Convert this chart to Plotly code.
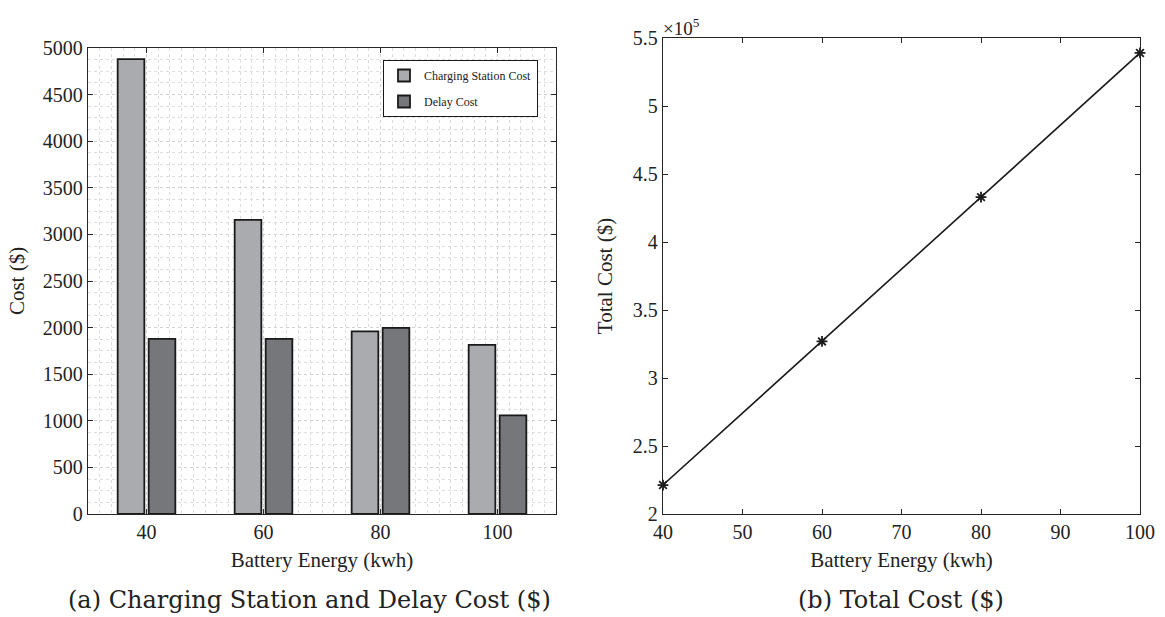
import plotly.graph_objects as go

# ---- data ----
battery_energy = [40, 60, 80, 100]
charging_station_cost = [4880, 3155, 1960, 1815]
delay_cost = [1880, 1878, 1998, 1058]
total_cost = [2.213e5, 3.269e5, 4.330e5, 5.390e5]

left_yticks = [0, 500, 1000, 1500, 2000, 2500, 3000, 3500, 4000, 4500, 5000]
right_xticks = [40, 50, 60, 70, 80, 90, 100]
right_yticks = [2.0e5, 2.5e5, 3.0e5, 3.5e5, 4.0e5, 4.5e5, 5.0e5, 5.5e5]
right_yticklabels = ["2", "2.5", "3", "3.5", "4", "4.5", "5", "5.5"]

W, H = 1165, 617
FONT = "Liberation Serif"
TXT = "#222222"
AX = "#262626"

def px(x):
    return x / W

def py(y):
    return 1 - y / H

fig = go.Figure()

fig.add_trace(go.Bar(
    x=battery_energy, y=charging_station_cost, name="Charging Station Cost",
    legendgroup="a",
    marker=dict(color="#aaabaf", line=dict(color="#1a1a1a", width=1.8)),
    xaxis="x", yaxis="y",
))
fig.add_trace(go.Bar(
    x=battery_energy, y=delay_cost, name="Delay Cost",
    legendgroup="b",
    marker=dict(color="#76777b", line=dict(color="#1a1a1a", width=1.8)),
    xaxis="x", yaxis="y",
))
fig.add_trace(go.Scatter(
    x=battery_energy, y=total_cost, mode="lines+markers", showlegend=False,
    line=dict(color="#1a1a1a", width=1.6), cliponaxis=False,
    marker=dict(symbol="asterisk-open", size=9, color="#1a1a1a",
                line=dict(color="#1a1a1a", width=1.8)),
    xaxis="x2", yaxis="y2",
))

common_axis = dict(
    showline=True, linecolor=AX, linewidth=1.3, mirror="ticks",
    ticks="inside", ticklen=5, tickcolor=AX, tickwidth=1,
    tickfont=dict(family=FONT, size=20, color=TXT),
    zeroline=False,
)
title_font = dict(family=FONT, size=21, color=TXT)

fig.update_layout(
    width=W, height=H,
    margin=dict(l=0, r=0, t=0, b=0, autoexpand=False),
    paper_bgcolor="white", plot_bgcolor="white",
    barmode="group", bargap=0.47, bargroupgap=0.14,
    font=dict(family=FONT, color=TXT),
    xaxis=dict(
        **common_axis,
        domain=[px(88), px(556)], range=[30, 110],
        tickvals=battery_energy, anchor="y",
        showgrid=True, gridcolor="#d2d2d2", griddash="dot", gridwidth=1,
        minor=dict(dtick=2, showgrid=True, gridcolor="#dddddd", griddash="dot", gridwidth=1, ticks=""),
        title=dict(text="Battery Energy (kwh)", font=title_font, standoff=10),
    ),
    yaxis=dict(
        **common_axis,
        domain=[py(514), py(48)], range=[0, 5000],
        tickvals=left_yticks, anchor="x",
        showgrid=True, gridcolor="#d2d2d2", griddash="dot", gridwidth=1,
        minor=dict(dtick=125, showgrid=True, gridcolor="#dddddd", griddash="dot", gridwidth=1, ticks=""),
        title=dict(text="Cost ($)", font=title_font, standoff=12),
    ),
    xaxis2=dict(
        **common_axis,
        domain=[px(663), px(1140)], range=[40, 100],
        tickvals=right_xticks, anchor="y2", showgrid=False,
        title=dict(text="Battery Energy (kwh)", font=title_font, standoff=10),
    ),
    yaxis2=dict(
        **common_axis,
        domain=[py(514), py(38)], range=[2.0e5, 5.5e5],
        tickvals=right_yticks, ticktext=right_yticklabels, anchor="x2", showgrid=False,
        title=dict(text="Total Cost ($)", font=title_font, standoff=14),
    ),
    legend=dict(
        x=px(383), y=py(60), xanchor="left", yanchor="top",
        bgcolor="white", bordercolor="#1a1a1a", borderwidth=1,
        font=dict(family=FONT, size=12, color=TXT),
        itemwidth=30, tracegroupgap=7,
    ),
    annotations=[
        dict(text="×10<sup>5</sup>", x=px(661), y=py(27), xref="paper", yref="paper",
             xanchor="left", yanchor="middle", showarrow=False,
             font=dict(family=FONT, size=19, color=TXT)),
        dict(text="(a) Charging Station and Delay Cost ($)", x=px(309), y=py(600),
             xref="paper", yref="paper", xanchor="center", yanchor="middle", showarrow=False,
             font=dict(family="DejaVu Serif", size=24, color=TXT)),
        dict(text="(b) Total Cost ($)", x=px(901), y=py(600),
             xref="paper", yref="paper", xanchor="center", yanchor="middle", showarrow=False,
             font=dict(family="DejaVu Serif", size=24, color=TXT)),
    ],
)

fig.write_html(
    "out.html",
    config={"displayModeBar": False},
    post_script="document.body.style.margin='0';document.body.style.overflow='hidden';",
)
